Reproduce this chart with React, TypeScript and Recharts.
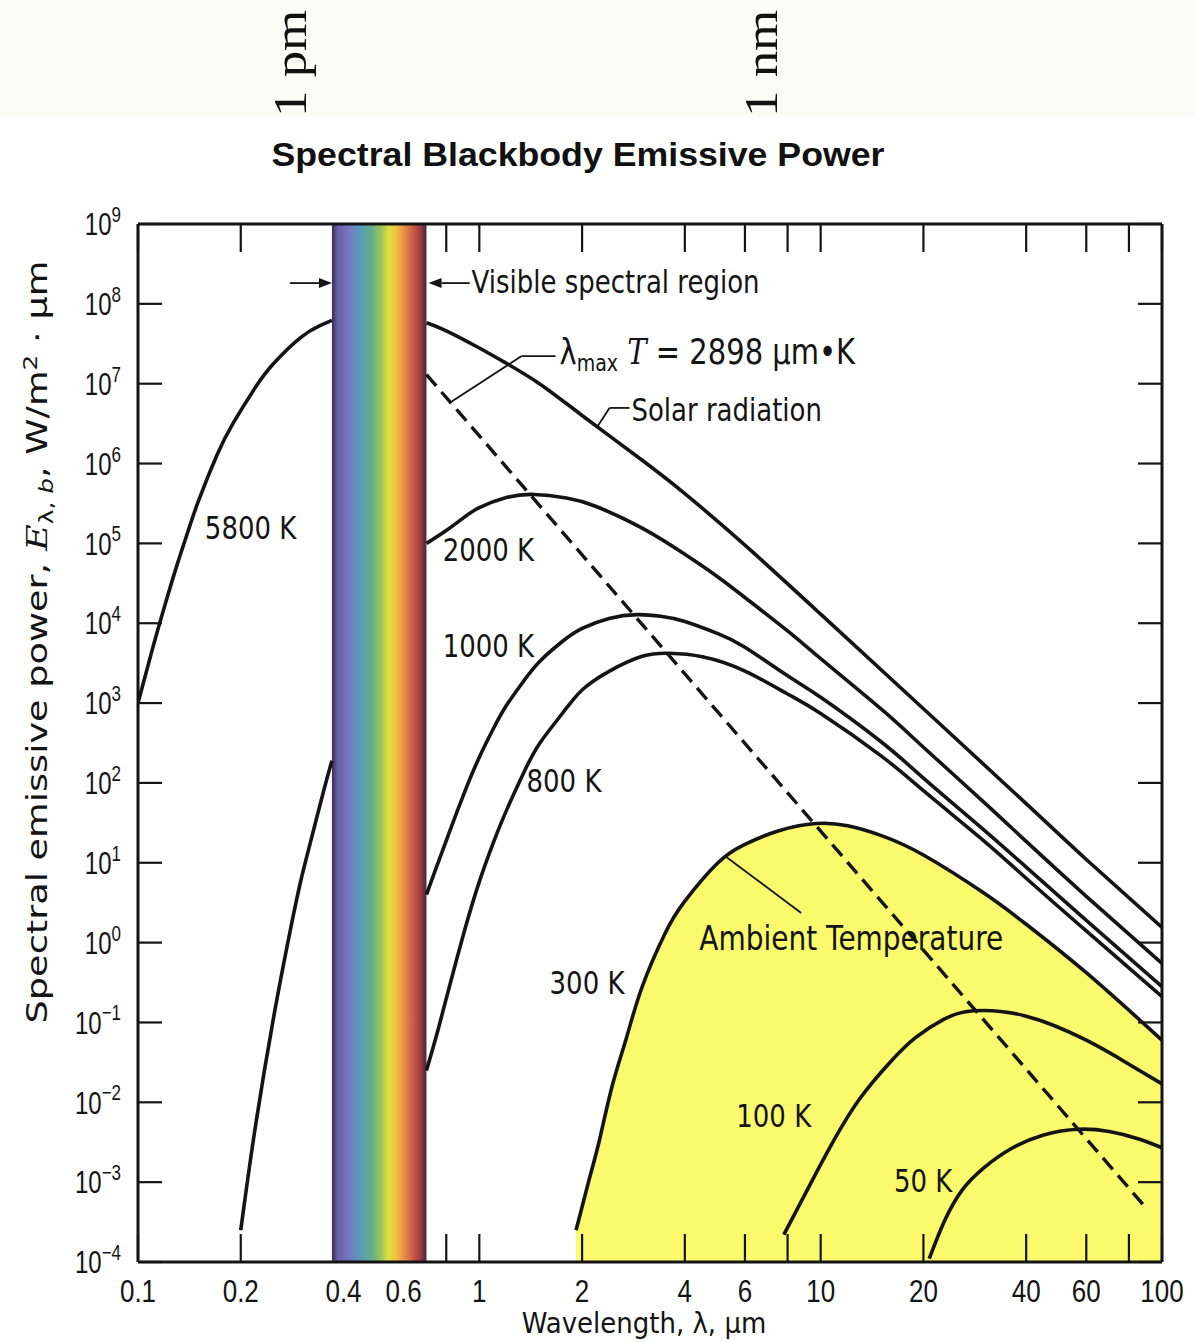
import React from "react";
import {
  Area,
  ComposedChart,
  Line,
  ReferenceArea,
  ReferenceDot,
  ReferenceLine,
  XAxis,
  YAxis,
} from "recharts";

// wavelength in µm, emissive power in W/m²·µm
const k5800Short: [number, number][] = [
  [0.1, 1.0e3], [0.11, 4.6e3], [0.12, 1.7e4], [0.13, 5.3e4], [0.14, 1.4e5], [0.15, 3.3e5], [0.17, 1.25e6],
  [0.19, 3.2e6], [0.22, 8.8e6], [0.25, 1.8e7], [0.3, 3.8e7], [0.34, 5.3e7], [0.37, 6.2e7],
];
const k5800Long: [number, number][] = [
  [0.7, 5.8e7], [0.8, 4.6e7], [1, 2.8e7], [1.2, 1.8e7], [1.5, 1.0e7], [2, 4.0e6], [3, 1.1e6],
  [4, 4.2e5], [6, 9.5e4], [10, 1.3e4], [20, 8.5e2], [40, 5.5e1], [60, 1.1e1], [100, 1.55],
];
const k2000Short: [number, number][] = [
  [0.2, 2.5e-4], [0.22, 4.5e-3], [0.25, 0.12], [0.28, 1.5], [0.3, 6], [0.32, 18], [0.35, 80], [0.37, 1.9e2],
];
const k2000Long: [number, number][] = [
  [0.7, 1.0e5], [0.8, 1.45e5], [0.9, 2.1e5], [1, 2.8e5], [1.2, 3.75e5], [1.45, 4.1e5], [1.8, 3.7e5],
  [2.2, 2.9e5], [3, 1.55e5], [4, 7.3e4], [5, 3.8e4], [6, 2.1e4], [8, 8.0e3], [10, 3.6e3], [15, 8.5e2],
  [20, 2.8e2], [30, 58], [40, 18.5], [60, 3.8], [100, 0.55],
];
const k1000: [number, number][] = [
  [0.7, 4], [0.75, 9], [0.8, 19], [0.9, 72], [1, 2.1e2], [1.1, 4.8e2], [1.2, 9.3e2], [1.35, 1.9e3],
  [1.5, 3.3e3], [1.75, 5.9e3], [2, 8.6e3], [2.4, 1.15e4], [2.9, 1.28e4], [3.4, 1.22e4], [4, 1.05e4],
  [5, 7.4e3], [6, 5.0e3], [8, 2.2e3], [10, 1.18e3], [15, 3.3e2], [20, 1.15e2], [30, 26], [40, 8.8],
  [60, 1.9], [100, 0.28],
];
const k800: [number, number][] = [
  [0.7, 0.025], [0.75, 0.07], [0.8, 0.2], [0.9, 1.3], [1, 5.8], [1.1, 18], [1.2, 45], [1.35, 1.35e2],
  [1.5, 3.1e2], [1.75, 7.4e2], [2, 1.46e3], [2.4, 2.5e3], [3, 3.85e3], [3.6, 4.2e3], [4.5, 3.8e3],
  [6, 2.52e3], [8, 1.3e3], [10, 7.4e2], [15, 2.2e2], [20, 80], [30, 19], [40, 6.4], [60, 1.4], [100, 0.21],
];
const k300: [number, number][] = [
  [1.92, 2.5e-4], [2.1, 1.1e-3], [2.25, 3.4e-3], [2.45, 1.6e-2], [2.7, 6.5e-2], [3, 0.28], [3.5, 1.3],
  [4, 3.3], [5, 10], [6, 17], [7.5, 25], [9.7, 31], [12, 29], [15, 22], [20, 12.5], [30, 4.2], [40, 1.7],
  [60, 0.42], [100, 0.06],
];
const k100: [number, number][] = [
  [7.8, 2.2e-4], [9.5, 1.1e-3], [11, 3.5e-3], [13, 1.1e-2], [16, 3.2e-2], [19, 6.5e-2], [23, 0.11],
  [28, 0.14], [40, 0.12], [60, 0.06], [80, 0.03], [100, 0.017],
];
const k50: [number, number][] = [
  [20.8, 1.1e-4], [23, 3.2e-4], [26, 8.0e-4], [30, 1.5e-3], [36, 2.6e-3], [45, 3.9e-3], [57, 4.6e-3],
  [70, 4.3e-3], [85, 3.5e-3], [100, 2.7e-3],
];
// λmax·T = 2898 µm·K
const wienLine: [number, number][] = [[0.7, 1.3e7], [90, 4.7e-4]];

const visibleBand = [0.37, 0.7];

const wavelengthTicks = [0.1, 0.2, 0.4, 0.6, 0.8, 1, 2, 4, 6, 8, 10, 20, 40, 60, 80, 100];
const wavelengthLabels = ["0.1", "0.2", "0.4", "0.6", "", "1", "2", "4", "6", "", "10", "20", "40", "60", "", "100"];
const powerTicks = [1e-4, 1e-3, 1e-2, 1e-1, 1e0, 1e1, 1e2, 1e3, 1e4, 1e5, 1e6, 1e7, 1e8, 1e9];
const powerExponents = ["−4", "−3", "−2", "−1", "0", "1", "2", "3", "4", "5", "6", "7", "8", "9"];

const curveNotes = [
  { text: "5800 K", at: [0.157, 1.13e5], size: 26 },
  { text: "2000 K", at: [0.781, 6.0e4], size: 26 },
  { text: "1000 K", at: [0.781, 3.8e3], size: 26 },
  { text: "800 K", at: [1.375, 77], size: 26 },
  { text: "300 K", at: [1.606, 0.228], size: 26 },
  { text: "100 K", at: [5.66, 4.9e-3], size: 26 },
  { text: "50 K", at: [16.4, 7.6e-4], size: 26 },
  { text: "Visible spectral region", at: [0.949, 1.37e8], size: 26 },
  { text: "Solar radiation", at: [2.79, 3.4e6], size: 26 },
  { text: "Ambient Temperature", at: [4.41, 0.81], size: 28 },
];
const wienNoteAt = [1.718, 1.77e7];

const arrows = [
  [[0.2786, 1.82e8], [0.37, 1.82e8]],
  [[0.937, 1.82e8], [0.71, 1.82e8]],
];
const leaders = [
  [[1.672, 2.22e7], [1.33, 2.22e7]],
  [[1.33, 2.22e7], [0.83, 6.0e6]],
  [[2.754, 4.97e6], [2.406, 4.97e6]],
  [[2.406, 4.97e6], [2.204, 2.79e6]],
  [[5.29, 11.8], [8.77, 2.35]],
];

const bandMarks = [
  { text: "1 pm", x: 306 },
  { text: "1 nm", x: 777 },
];

const INK = "#141414";
const SANS = "'DejaVu Sans', sans-serif";
const NUM = "'Liberation Sans', Arial, sans-serif";
const TICK_GAP = 18;
const TICK_LEN = 28;
const asPoints = (rows: [number, number][]) => rows.map(([wavelength, power]) => ({ wavelength, power }));
const inBand = (v: number) => v > visibleBand[0] && v < visibleBand[1];
const topTicks = wavelengthTicks.filter((v) => !inBand(v));

function WavelengthTick({ x, y, payload }: any) {
  const label = wavelengthLabels[wavelengthTicks.indexOf(payload.value)] ?? "";
  const axisY = y - TICK_GAP;
  return (
    <g>
      {!inBand(payload.value) && <line x1={x} x2={x} y1={axisY} y2={axisY - TICK_LEN} stroke={INK} strokeWidth={2.2} />}
      <text transform={`translate(${x},${y}) scale(1,1.2)`} textAnchor="middle" dy="0.72em" fontFamily={NUM} fontSize={26} fill={INK}>
        {label}
      </text>
    </g>
  );
}

function PowerTick({ x, y, payload }: any) {
  const exp = powerExponents[powerTicks.indexOf(payload.value)] ?? "";
  return (
    <text transform={`translate(${x},${y}) scale(1,1.3)`} textAnchor="end" dy="0.36em" fontFamily={NUM} fontSize={24} fill={INK}>
      10<tspan dy="-0.6em" fontSize={17}>{exp}</tspan>
    </text>
  );
}

const NoTick = () => <g />;

const noteContent = (text: string, size: number) => (props: any) => {
  const vb = props.viewBox ?? {};
  return (
    <text transform={`translate(${vb.x},${vb.y}) scale(1,1.2)`} fontFamily={SANS} fontSize={size} fill={INK}>
      {text}
    </text>
  );
};

const wienContent = (props: any) => {
  const vb = props.viewBox ?? {};
  return (
    <text transform={`translate(${vb.x},${vb.y}) scale(1,1.2)`} fontFamily={SANS} fontSize={29} fill={INK}>
      λ<tspan fontSize={19} dy={6}>max</tspan>
      <tspan dy={-6} fontFamily="'DejaVu Serif', serif" fontStyle="italic"> T</tspan> = 2898 µm•K
    </text>
  );
};

const LeaderShape = (p: any) => <line x1={p.x1} y1={p.y1} x2={p.x2} y2={p.y2} stroke={INK} strokeWidth={1.8} />;

const ArrowShape = (p: any) => {
  const dx = p.x2 - p.x1;
  const dy = p.y2 - p.y1;
  const len = Math.hypot(dx, dy) || 1;
  const ux = dx / len;
  const uy = dy / len;
  const hx = p.x2 - ux * 13;
  const hy = p.y2 - uy * 13;
  return (
    <g>
      <line x1={p.x1} y1={p.y1} x2={hx} y2={hy} stroke={INK} strokeWidth={1.8} />
      <polygon points={`${p.x2},${p.y2} ${hx - uy * 5},${hy + ux * 5} ${hx + uy * 5},${hy - ux * 5}`} fill={INK} />
    </g>
  );
};

export default function App() {
  const curves = [k5800Short, k5800Long, k2000Short, k2000Long, k1000, k800, k100, k50];
  return (
    <div style={{ position: "absolute", left: 0, top: 0, width: 1195, height: 1342, background: "#ffffff", overflow: "hidden" }}>
      <div style={{ position: "absolute", left: 0, top: 0, width: 1195, height: 116, background: "#fcfcf6", overflow: "hidden" }}>
        <svg width={1195} height={116}>
          {bandMarks.map((m) => (
            <text key={m.text} transform={`translate(${m.x},117) rotate(-90) scale(1.15,1)`} fontFamily="'Liberation Serif', 'DejaVu Serif', serif" fontSize={46} fill="#111">
              {m.text}
            </text>
          ))}
        </svg>
      </div>
      <div style={{ position: "absolute", left: 0, top: 0 }}>
        <ComposedChart width={1195} height={1342} margin={{ top: 223, right: 32, bottom: 40, left: 78 }}>
          <defs>
            <linearGradient id="visibleGradient" x1="0" y1="0" x2="1" y2="0">
              <stop offset="0" stopColor="#3a2a52" />
              <stop offset="0.06" stopColor="#6c5ea8" />
              <stop offset="0.18" stopColor="#7478c0" />
              <stop offset="0.3" stopColor="#5a9ab8" />
              <stop offset="0.42" stopColor="#62ae8c" />
              <stop offset="0.52" stopColor="#9cc45a" />
              <stop offset="0.6" stopColor="#e2de3e" />
              <stop offset="0.68" stopColor="#eec040" />
              <stop offset="0.76" stopColor="#e89048" />
              <stop offset="0.86" stopColor="#cc5a46" />
              <stop offset="0.94" stopColor="#9a3a48" />
              <stop offset="1" stopColor="#4a2438" />
            </linearGradient>
          </defs>
          <XAxis
            dataKey="wavelength"
            type="number"
            scale="log"
            domain={[0.1, 100]}
            allowDataOverflow
            ticks={wavelengthTicks}
            interval={0}
            height={40}
            tickSize={0}
            tickMargin={TICK_GAP}
            tick={WavelengthTick}
            tickLine={false}
            axisLine={{ stroke: INK, strokeWidth: 3 }}
          />
          <XAxis
            xAxisId="top"
            orientation="top"
            dataKey="wavelength"
            type="number"
            scale="log"
            domain={[0.1, 100]}
            allowDataOverflow
            ticks={topTicks}
            interval={0}
            height={1}
            tickSize={-TICK_LEN}
            tick={NoTick}
            axisLine={{ stroke: INK, strokeWidth: 3 }}
            tickLine={{ stroke: INK, strokeWidth: 2.2 }}
          />
          <YAxis
            type="number"
            scale="log"
            domain={[1e-4, 1e9]}
            allowDataOverflow
            ticks={powerTicks}
            interval={0}
            width={60}
            tickSize={-24}
            tickMargin={41}
            tick={PowerTick}
            axisLine={{ stroke: INK, strokeWidth: 3 }}
            tickLine={{ stroke: INK, strokeWidth: 2.2 }}
          />
          <YAxis
            yAxisId="right"
            orientation="right"
            type="number"
            scale="log"
            domain={[1e-4, 1e9]}
            allowDataOverflow
            ticks={powerTicks}
            interval={0}
            width={1}
            tickSize={-24}
            tick={NoTick}
            axisLine={{ stroke: INK, strokeWidth: 3 }}
            tickLine={{ stroke: INK, strokeWidth: 2.2 }}
          />
          <Area
            data={asPoints(k300)}
            dataKey="power"
            type="natural"
            baseValue={1e-4}
            fill="#fbfa6c"
            fillOpacity={1}
            stroke={INK}
            strokeWidth={3.6}
            isAnimationActive={false}
          />
          <ReferenceArea x1={visibleBand[0]} x2={visibleBand[1]} y1={1e-4} y2={1e9} fill="url(#visibleGradient)" fillOpacity={1} stroke="none" />
          {curves.map((c, i) => (
            <Line key={i} data={asPoints(c)} dataKey="power" type="natural" stroke={INK} strokeWidth={3.6} dot={false} isAnimationActive={false} />
          ))}
          <Line data={asPoints(wienLine)} dataKey="power" type="linear" stroke={INK} strokeWidth={3.4} strokeDasharray="15 8" dot={false} isAnimationActive={false} />
          {arrows.map((s, i) => (
            <ReferenceLine key={`a${i}`} segment={[{ x: s[0][0], y: s[0][1] }, { x: s[1][0], y: s[1][1] }]} shape={ArrowShape} />
          ))}
          {leaders.map((s, i) => (
            <ReferenceLine key={`l${i}`} segment={[{ x: s[0][0], y: s[0][1] }, { x: s[1][0], y: s[1][1] }]} shape={LeaderShape} />
          ))}
          {curveNotes.map((n) => (
            <ReferenceDot key={n.text} x={n.at[0]} y={n.at[1]} r={0} fill="none" stroke="none" label={{ content: noteContent(n.text, n.size) }} />
          ))}
          <ReferenceDot x={wienNoteAt[0]} y={wienNoteAt[1]} r={0} fill="none" stroke="none" label={{ content: wienContent }} />
        </ComposedChart>
      </div>
      <svg width={1195} height={1342} style={{ position: "absolute", left: 0, top: 0, pointerEvents: "none" }}>
        <text x={578} y={166} textAnchor="middle" fontFamily={NUM} fontWeight="bold" fontSize={33} textLength={613} lengthAdjust="spacingAndGlyphs" fill="#111">
          Spectral Blackbody Emissive Power
        </text>
        <text transform="translate(644,1333) scale(1,1.1)" textAnchor="middle" fontFamily={SANS} fontSize={26} fill={INK}>
          Wavelength, λ, µm
        </text>
        <text transform="translate(47,642) rotate(-90) scale(1.31,1)" textAnchor="middle" fontFamily={SANS} fontSize={28} fill={INK}>
          Spectral emissive power, <tspan fontFamily="'DejaVu Serif', serif" fontStyle="italic">E</tspan>
          <tspan fontSize={19} dy={6}>λ, <tspan fontStyle="italic">b</tspan></tspan>
          <tspan dy={-6}>, W/m</tspan>
          <tspan fontSize={19} dy={-10}>2</tspan>
          <tspan dy={10}> · µm</tspan>
        </text>
      </svg>
    </div>
  );
}
